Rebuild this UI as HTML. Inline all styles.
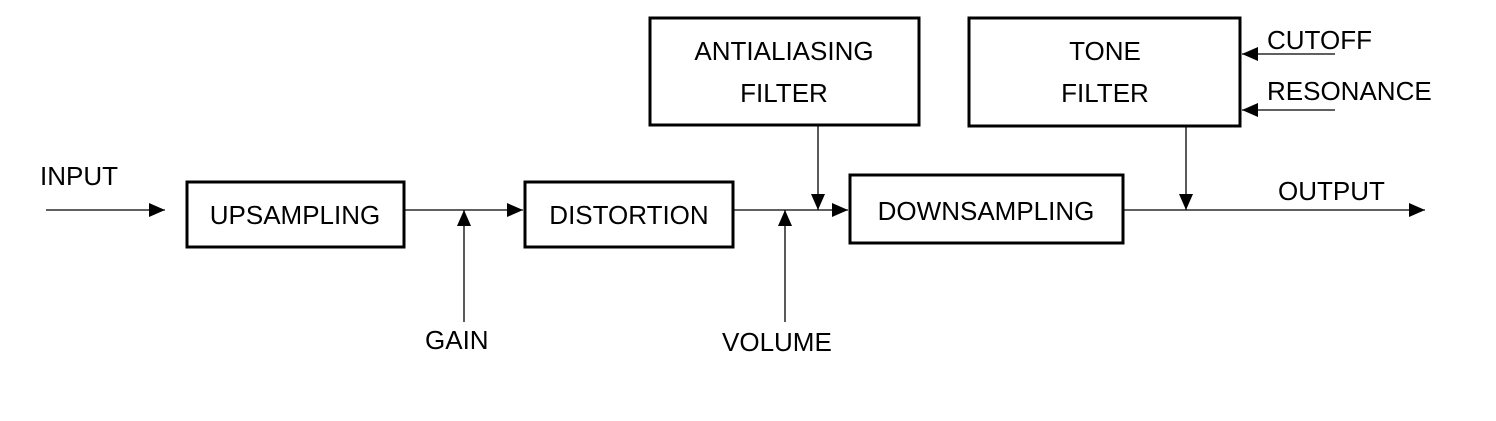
<!DOCTYPE html>
<html><head><style>body{margin:0;background:#fff}</style></head><body>
<svg width="1496" height="416" xmlns="http://www.w3.org/2000/svg" font-family="Liberation Sans, sans-serif" font-size="26" fill="#000">
<defs>
<marker id="b" markerWidth="16" markerHeight="14" refX="16" refY="7" orient="auto" markerUnits="userSpaceOnUse"><path d="M0,0 L16,7 L0,14z" fill="#000"/></marker></defs>
<g fill="none" stroke="#000" stroke-width="3">
<rect x="187" y="182" width="217" height="65"/>
<rect x="525" y="182" width="208" height="65"/>
<rect x="850" y="175" width="273" height="68"/>
<rect x="650" y="18" width="269" height="107"/>
<rect x="969" y="18" width="271" height="108"/>
</g>
<g stroke="#000" stroke-width="1.3" fill="none">
<line x1="46" y1="210" x2="165" y2="210" marker-end="url(#b)"/>
<line x1="404" y1="210" x2="523" y2="210" marker-end="url(#b)"/>
<line x1="733" y1="210" x2="848" y2="210" marker-end="url(#b)"/>
<line x1="1123" y1="210" x2="1425" y2="210" marker-end="url(#b)"/>
<line x1="464" y1="322" x2="464" y2="210" marker-end="url(#b)"/>
<line x1="785" y1="322" x2="785" y2="210" marker-end="url(#b)"/>
<line x1="818" y1="125" x2="818" y2="210" marker-end="url(#b)"/>
<line x1="1186" y1="126" x2="1186" y2="210" marker-end="url(#b)"/>
<line x1="1335" y1="54" x2="1242" y2="54" marker-end="url(#b)"/>
<line x1="1335" y1="110" x2="1242" y2="110" marker-end="url(#b)"/>
</g>
<text x="40" y="185">INPUT</text>
<text x="295" y="224" text-anchor="middle">UPSAMPLING</text>
<text x="629" y="224" text-anchor="middle">DISTORTION</text>
<text x="986" y="220" text-anchor="middle">DOWNSAMPLING</text>
<text x="784" y="60" text-anchor="middle">ANTIALIASING</text>
<text x="784" y="102" text-anchor="middle">FILTER</text>
<text x="1105" y="60" text-anchor="middle">TONE</text>
<text x="1105" y="102" text-anchor="middle">FILTER</text>
<text x="1267" y="49">CUTOFF</text>
<text x="1267" y="100">RESONANCE</text>
<text x="1278" y="200">OUTPUT</text>
<text x="425" y="349">GAIN</text>
<text x="722" y="351">VOLUME</text>
</svg>
</body></html>
